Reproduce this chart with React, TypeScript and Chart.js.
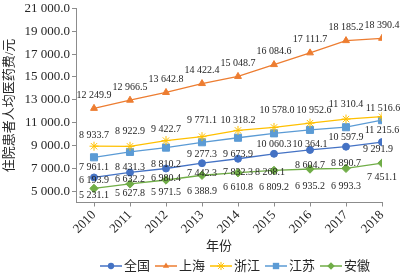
import React, { useEffect, useRef } from 'react';
import { Chart, registerables } from 'chart.js';

Chart.register(...registerables);

// ---------------- data ----------------
const years = [2010, 2011, 2012, 2013, 2014, 2015, 2016, 2017, 2018];
const quanguo = [6193.9, 6632.2, 6980.4, 7442.3, 7832.3, 8268.1, 8604.7, 8890.7, 9291.9];
const shanghai = [12249.9, 12966.5, 13642.8, 14422.4, 15048.7, 16084.6, 17111.7, 18185.2, 18390.4];
const zhejiang = [8933.7, 8922.9, 9422.7, 9771.1, 10318.2, 10578.0, 10952.6, 11310.4, 11516.6];
const jiangsu = [7961.1, 8431.3, 8810.2, 9277.3, 9673.9, 10060.3, 10364.1, 10597.9, 11215.6];
const anhui = [5231.1, 5627.8, 5971.5, 6388.9, 6610.8, 6809.2, 6935.2, 6993.3, 7451.1];
const seriesNames = ['全国', '上海', '浙江', '江苏', '安徽'];
const seriesValues = [quanguo, shanghai, zhejiang, jiangsu, anhui];
const yTickValues = [5000, 7000, 9000, 11000, 13000, 15000, 17000, 19000, 21000];
const xTitle = '年份';
const yTitle = '住院患者人均医药费/元';

// ---------------- styling ----------------
const colors = ['#4472C4', '#ED7D31', '#FFC000', '#5B9BD5', '#70AD47'];
const pointStyles = ['circle', 'triangle', 'star', 'rect', 'rectRot'];
const pointRadii = [3.5, 4, 4.5, 5, 4.2];
// data label offsets relative to the point (px)
const labelDy = [
  [3, 7, 10, 10, 14, 19, 15, 17, 7],
  [-13, -13, -13, -13, -13, -13, -13, -13, -13],
  [-11, -15, -11, -16, -10, -17, -13, -15, -8],
  [10, 15, 17, 12.5, 16.5, 11.5, 15, 10.5, 10.5],
  [7, 9, 12, 16, 15, 17, 17, 18, 14],
];
const labelDx = [
  [0, 0, 0, 0, 0, -4, 0, 0, -4],
  [0, 0, 0, 0, 0, 0, 0, 0, 0],
  [0, 0, 0, 0, 0, 3, 4, 0, 1],
  [0, 0, 0, 0, 0, 0, 0, 0, 0],
  [0, 0, 0, 0, 0, 0, 0, 0, 0],
];
const SERIF = "'Liberation Serif', 'Times New Roman', 'Noto Sans CJK SC', serif";
const TEXT = '#262626';
const AXIS = '#8c8c8c';

function fmt(v: number): string {
  const s = v.toFixed(1);
  const [i, d] = s.split('.');
  return i.replace(/\B(?=(\d{3})+(?!\d))/g, ' ') + '.' + d;
}

function drawMarker(ctx: CanvasRenderingContext2D, style: string, x: number, y: number, r: number, color: string) {
  ctx.save();
  ctx.fillStyle = color;
  ctx.strokeStyle = color;
  ctx.lineWidth = 1;
  ctx.beginPath();
  if (style === 'circle') {
    ctx.arc(x, y, r, 0, Math.PI * 2);
    ctx.fill();
  } else if (style === 'triangle') {
    ctx.moveTo(x, y - r);
    ctx.lineTo(x + r * 0.866, y + r * 0.5);
    ctx.lineTo(x - r * 0.866, y + r * 0.5);
    ctx.closePath();
    ctx.fill();
  } else if (style === 'rect') {
    const s = r * Math.SQRT1_2;
    ctx.rect(x - s, y - s, 2 * s, 2 * s);
    ctx.fill();
  } else if (style === 'rectRot') {
    ctx.moveTo(x - r, y);
    ctx.lineTo(x, y - r);
    ctx.lineTo(x + r, y);
    ctx.lineTo(x, y + r);
    ctx.closePath();
    ctx.fill();
  } else if (style === 'star') {
    const d = r * Math.SQRT1_2;
    ctx.moveTo(x - r, y); ctx.lineTo(x + r, y);
    ctx.moveTo(x, y - r); ctx.lineTo(x, y + r);
    ctx.moveTo(x - d, y - d); ctx.lineTo(x + d, y + d);
    ctx.moveTo(x - d, y + d); ctx.lineTo(x + d, y - d);
    ctx.stroke();
  }
  ctx.restore();
}

const labelsPlugin = {
  id: 'valueLabels',
  afterDatasetsDraw(chart: any) {
    const ctx = chart.ctx as CanvasRenderingContext2D;
    ctx.save();
    ctx.font = `10px ${SERIF}`;
    ctx.fillStyle = TEXT;
    ctx.textAlign = 'center';
    ctx.textBaseline = 'middle';
    chart.data.datasets.forEach((ds: any, i: number) => {
      const meta = chart.getDatasetMeta(i);
      meta.data.forEach((el: any, j: number) => {
        const v = seriesValues[i][j];
        ctx.fillText(fmt(v), el.x + labelDx[i][j], el.y + labelDy[i][j]);
      });
    });
    ctx.restore();
  },
};

const extrasPlugin = {
  id: 'extras',
  afterDraw(chart: any) {
    const ctx = chart.ctx as CanvasRenderingContext2D;
    const area = chart.chartArea;
    ctx.save();
    // x axis title
    ctx.font = `13px ${SERIF}`;
    ctx.fillStyle = TEXT;
    ctx.textAlign = 'center';
    ctx.textBaseline = 'middle';
    ctx.fillText(xTitle, (area.left + area.right) / 2 - 10, 247);
    // legend
    let x = 100;
    const y = 266;
    ctx.textAlign = 'left';
    chart.data.datasets.forEach((ds: any, i: number) => {
      ctx.strokeStyle = colors[i];
      ctx.lineWidth = 1.5;
      ctx.beginPath();
      ctx.moveTo(x, y);
      ctx.lineTo(x + 22, y);
      ctx.stroke();
      drawMarker(ctx, pointStyles[i], x + 11, y, pointRadii[i] * 0.9, colors[i]);
      ctx.fillStyle = TEXT;
      ctx.fillText(ds.label, x + 24, y + 0.5);
      x += 24 + ctx.measureText(ds.label).width + 5;
    });
    ctx.restore();
  },
};

export default function App() {
  const ref = useRef<HTMLCanvasElement | null>(null);
  useEffect(() => {
    document.body.style.margin = '0';
    if (!ref.current) return;
    const datasets = seriesNames.map((name, i) => ({
      label: name,
      data: years.map((yr, j) => ({ x: yr, y: seriesValues[i][j] })),
      borderColor: colors[i],
      backgroundColor: colors[i],
      borderWidth: 1.3,
      pointStyle: pointStyles[i],
      pointRadius: pointRadii[i],
      pointBorderWidth: 1,
      pointBackgroundColor: colors[i],
      pointBorderColor: colors[i],
      tension: 0,
      fill: false,
    }));
    const chart = new Chart(ref.current, {
      type: 'line',
      data: { datasets },
      plugins: [labelsPlugin, extrasPlugin],
      options: {
        animation: false,
        responsive: false,
        layout: { padding: { top: 7, right: 20, left: 0, bottom: 21.5 } },
        plugins: { legend: { display: false }, tooltip: { enabled: false } },
        scales: {
          x: {
            type: 'linear',
            min: 2009.5,
            max: 2018,
            afterBuildTicks: (s: any) => { s.ticks = years.map((v) => ({ value: v })); },
            afterFit: (s: any) => { s.height = 50; },
            ticks: {
              autoSkip: false,
              minRotation: 45,
              maxRotation: 45,
              padding: 1,
              color: TEXT,
              font: { family: SERIF, size: 13 },
              callback: (v: any) => String(v),
            },
            grid: { display: true, drawOnChartArea: false, drawTicks: true, tickLength: 4, color: AXIS },
            border: { display: true, color: AXIS, width: 1 },
          },
          y: {
            min: 4000,
            max: 21000,
            afterBuildTicks: (s: any) => { s.ticks = yTickValues.map((v) => ({ value: v })); },
            afterFit: (s: any) => { s.width = 76; },
            ticks: {
              autoSkip: false,
              padding: 2,
              color: TEXT,
              font: { family: SERIF, size: 13, lineHeight: 1 },
              callback: (v: any) => fmt(Number(v)),
            },
            grid: { display: true, drawOnChartArea: false, drawTicks: true, tickLength: 4, color: AXIS },
            border: { display: true, color: AXIS, width: 1 },
            title: {
              display: true,
              text: yTitle,
              color: TEXT,
              font: { family: SERIF, size: 13 },
              padding: { top: 2, bottom: 0 },
            },
          },
        },
      },
    });
    return () => chart.destroy();
  }, []);
  return (
    <div style={{ width: 402, height: 274 }}>
      <canvas ref={ref} width={402} height={274} style={{ display: 'block' }} />
    </div>
  );
}
